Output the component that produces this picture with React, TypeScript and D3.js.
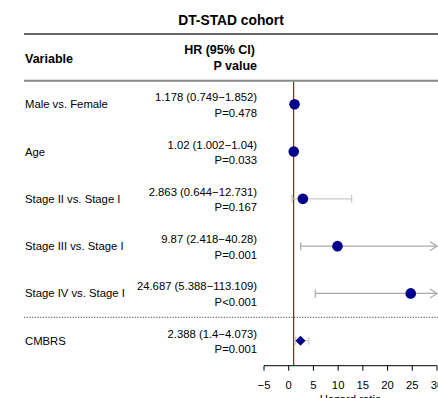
import React from "react";
import * as d3 from "d3";

const variables = ["Male vs. Female", "Age", "Stage II vs. Stage I", "Stage III vs. Stage I", "Stage IV vs. Stage I", "CMBRS"];
const hr = [1.178, 1.02, 2.863, 9.87, 24.687, 2.388];
const lower = [0.749, 1.002, 0.644, 2.418, 5.388, 1.4];
const upper = [1.852, 1.04, 12.731, 40.28, 113.109, 4.073];
const hrLabels = ["1.178 (0.749\u22121.852)", "1.02 (1.002\u22121.04)", "2.863 (0.644\u221212.731)", "9.87 (2.418\u221240.28)", "24.687 (5.388\u2212113.109)", "2.388 (1.4\u22124.073)"];
const pLabels = ["P=0.478", "P=0.033", "P=0.167", "P=0.001", "P<0.001", "P=0.001"];
const shapes = ["circle", "circle", "circle", "circle", "circle", "diamond"];
const xTicks = [-5, 0, 5, 10, 15, 20, 25, 30];

const W = 438, H = 398;
const FONT = "'Liberation Sans', Arial, sans-serif";

export default function App() {
  const x = d3.scaleLinear().domain([-5, 30]).range([264, 437]);
  const y = d3.scaleLinear().domain([0, 5]).range([104.3, 340.7]);
  const [xmin, xmax] = x.domain();
  const axisY = 365.7;
  const ciColor = "#aaaaaa";

  return (
    <svg width={W} height={H} style={{ position: "absolute", left: 0, top: 0, fontFamily: FONT }}>
      <rect width={W} height={H} fill="#fff" />
      <text x={231} y={25} textAnchor="middle" fontSize={13.8} fontWeight="bold" fill="#000">DT-STAD cohort</text>
      <line x1={24} x2={438} y1={34} y2={34} stroke="#333" strokeWidth={1.3} />
      <text x={25} y={63} fontSize={12.5} fontWeight="bold">Variable</text>
      <text x={255} y={54} textAnchor="end" fontSize={12.5} fontWeight="bold">HR (95% CI)</text>
      <text x={257} y={70} textAnchor="end" fontSize={12.5} fontWeight="bold">P value</text>
      <line x1={24} x2={438} y1={80.7} y2={80.7} stroke="#888" strokeWidth={2} />

      {variables.map((v, i) => (
        <g key={v}>
          <text x={25} y={y(i) + 4} fontSize={11.3} fill="#000">{v}</text>
          <text x={257} y={y(i) - 3} textAnchor="end" fontSize={11.3} fill="#000">{hrLabels[i]}</text>
          <text x={257} y={y(i) + 12.5} textAnchor="end" fontSize={11.3} fill="#000">{pLabels[i]}</text>
        </g>
      ))}

      <line x1={24} x2={438} y1={317.3} y2={317.3} stroke="#444" strokeWidth={1} strokeDasharray="1.2,1.5" />

      <line x1={x(1)} x2={x(1)} y1={81.7} y2={axisY} stroke="#a00000" strokeWidth={1.1} />

      {variables.map((v, i) => {
        const yy = y(i);
        const lo = Math.max(lower[i], xmin);
        const hiClipped = upper[i] > xmax;
        const hi = Math.min(upper[i], xmax);
        const col = i === 2 || i === 5 ? "#c8c8c8" : ciColor;
        return (
          <g key={"ci" + v}>
            <line x1={x(lo)} x2={x(hi)} y1={yy} y2={yy} stroke={col} strokeWidth={1.2} />
            <line x1={x(lo)} x2={x(lo)} y1={yy - 4} y2={yy + 4} stroke={col} strokeWidth={1.2} />
            {hiClipped ? (
              <path d={`M${x(hi) - 7},${yy - 4.5}L${x(hi)},${yy}L${x(hi) - 7},${yy + 4.5}`} fill="none" stroke={col} strokeWidth={1.2} />
            ) : (
              <line x1={x(hi)} x2={x(hi)} y1={yy - 4} y2={yy + 4} stroke={col} strokeWidth={1.2} />
            )}
            {shapes[i] === "circle" ? (
              <circle cx={x(hr[i])} cy={yy} r={5.3} fill="#00008b" />
            ) : (
              <path d={`M${x(hr[i]) - 5},${yy}L${x(hr[i])},${yy - 5}L${x(hr[i]) + 5},${yy}L${x(hr[i])},${yy + 5}Z`} fill="#00008b" />
            )}
          </g>
        );
      })}

      <line x1={x(xmin)} x2={x(xmax)} y1={axisY} y2={axisY} stroke="#000" strokeWidth={1} />
      {xTicks.map((t) => (
        <g key={t}>
          <line x1={x(t)} x2={x(t)} y1={axisY} y2={axisY + 5} stroke="#000" strokeWidth={1} />
          <text x={x(t)} y={388.5} textAnchor="middle" fontSize={11.3}>{t < 0 ? "\u2212" + Math.abs(t) : t}</text>
        </g>
      ))}
      <text x={350.5} y={403} textAnchor="middle" fontSize={11.3}>Hazard ratio</text>
    </svg>
  );
}
